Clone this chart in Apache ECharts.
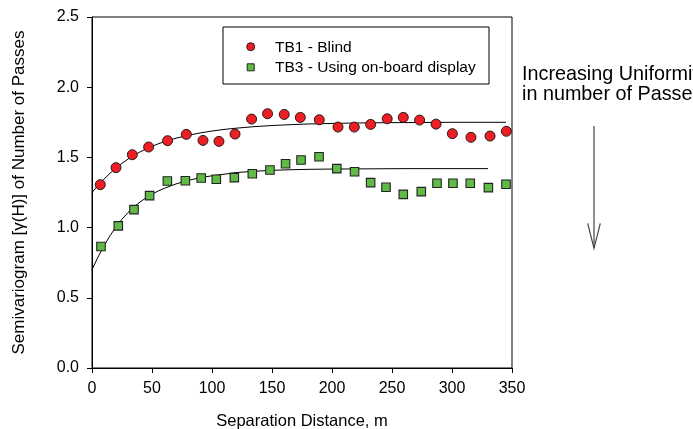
<!DOCTYPE html>
<html>
<head>
<meta charset="utf-8">
<script src="https://cdn.jsdelivr.net/npm/echarts@6/dist/echarts.min.js"></script>
<style>
html,body{margin:0;padding:0;background:#fff;}
#c{width:693px;height:429px;}
</style>
</head>
<body>
<div id="c"></div>
<script>
// ---- data ----
const xTicks = [0, 50, 100, 150, 200, 250, 300, 350];
const yTicks = [0.0, 0.5, 1.0, 1.5, 2.0, 2.5];

const redName = 'TB1 - Blind';
const redX = [6.9, 20, 33.6, 47.2, 63, 78.6, 92.5, 105.8, 119.2, 133, 146.3, 160.2, 173.6, 189.4, 205, 218.6, 232.2, 246, 259.4, 273, 286.7, 300.3, 315.8, 331.7, 345.3];
const redY = [1.306, 1.427, 1.519, 1.574, 1.619, 1.664, 1.621, 1.614, 1.666, 1.773, 1.811, 1.806, 1.785, 1.768, 1.716, 1.716, 1.735, 1.775, 1.785, 1.766, 1.737, 1.669, 1.643, 1.652, 1.686];

const greenName = 'TB3 - Using on-board display';
const greenX = [7.5, 21.9, 35, 48, 62.8, 77.8, 91, 103.6, 118.6, 133.6, 148.3, 161.3, 174.2, 189.2, 204, 218.8, 232.2, 245, 259.4, 274.4, 287.5, 300.8, 315.2, 330.3, 345];
const greenY = [0.865, 1.012, 1.128, 1.228, 1.332, 1.334, 1.353, 1.344, 1.356, 1.384, 1.41, 1.455, 1.481, 1.505, 1.42, 1.398, 1.32, 1.287, 1.237, 1.256, 1.316, 1.316, 1.316, 1.285, 1.309];

// fitted model curves
const fitRedX = [0, 5, 10, 15, 20, 25, 30, 35, 40, 45, 50, 55, 60, 70, 80, 90, 100, 110, 120, 135, 150, 165, 180, 200, 220, 240, 260, 280, 300, 320, 345];
const fitRedY = [1.25, 1.30, 1.345, 1.387, 1.424, 1.458, 1.488, 1.515, 1.539, 1.56, 1.579, 1.596, 1.611, 1.637, 1.657, 1.674, 1.688, 1.699, 1.708, 1.719, 1.727, 1.733, 1.738, 1.742, 1.745, 1.747, 1.748, 1.749, 1.75, 1.75, 1.75];
const fitGreenX = [0, 5, 10, 15, 20, 25, 30, 35, 40, 45, 50, 55, 60, 70, 80, 90, 100, 110, 120, 135, 150, 165, 180, 200, 220, 240, 260, 280, 300, 330];
const fitGreenY = [0.70, 0.79, 0.87, 0.942, 1.005, 1.06, 1.107, 1.147, 1.182, 1.212, 1.238, 1.26, 1.279, 1.311, 1.336, 1.355, 1.369, 1.38, 1.392, 1.401, 1.408, 1.412, 1.415, 1.417, 1.418, 1.419, 1.42, 1.42, 1.42, 1.42];

const annotationLines = ['Increasing Uniformity', 'in number of Passes'];
const xTitle = 'Separation Distance, m';
const yTitle = 'Semivariogram [γ(H)] of Number of Passes';

// ---- build ----
const zip = (xs, ys) => xs.map((x, i) => [x, ys[i]]);
const FONT = '"Liberation Sans", Arial, sans-serif';
const chart = echarts.init(document.getElementById('c'), null, {renderer: 'canvas'});

chart.setOption({
  animation: false,
  backgroundColor: '#fff',
  textStyle: {fontFamily: FONT, color: '#000'},
  grid: {left: 92, right: 181, top: 17, bottom: 61, containLabel: false, outerBoundsMode: 'none',
         show: true, borderColor: '#000', borderWidth: 1, backgroundColor: 'transparent'},
  xAxis: {
    type: 'value', min: xTicks[0], max: xTicks[xTicks.length - 1], interval: 50,
    name: xTitle, nameLocation: 'middle', nameGap: 45,
    nameTextStyle: {fontSize: 16.5, color: '#000', fontFamily: FONT},
    axisLine: {show: true, lineStyle: {color: '#000', width: 1}},
    axisTick: {show: true, inside: false, length: 5, lineStyle: {color: '#000'}},
    axisLabel: {fontSize: 16, color: '#000', margin: 13, fontFamily: FONT},
    splitLine: {show: false}
  },
  yAxis: {
    type: 'value', min: yTicks[0], max: yTicks[yTicks.length - 1], interval: 0.5,
    name: yTitle, nameLocation: 'middle', nameGap: 64,
    nameTextStyle: {fontSize: 17, color: '#000', fontFamily: FONT},
    axisLine: {show: true, lineStyle: {color: '#000', width: 1}},
    axisTick: {show: true, inside: false, length: 5, lineStyle: {color: '#000'}},
    axisLabel: {fontSize: 16, color: '#000', margin: 13, fontFamily: FONT, formatter: v => v.toFixed(1)},
    splitLine: {show: false}
  },
  series: [
    {type: 'line', data: zip(fitRedX, fitRedY), showSymbol: false, smooth: false,
     lineStyle: {color: '#000', width: 1}, silent: true, z: 1},
    {type: 'line', data: zip(fitGreenX, fitGreenY), showSymbol: false, smooth: false,
     lineStyle: {color: '#000', width: 1}, silent: true, z: 1},
    {name: redName, type: 'scatter', data: zip(redX, redY), symbol: 'circle', symbolSize: 10,
     itemStyle: {color: '#ee1f24', borderColor: '#111', borderWidth: 0.9, opacity: 1}, z: 3},
    {name: greenName, type: 'scatter', data: zip(greenX, greenY), symbol: 'rect', symbolSize: 8.5,
     itemStyle: {color: '#5fbb46', borderColor: '#222', borderWidth: 1.1, opacity: 1}, z: 3}
  ],
  graphic: [
    {type: 'rect', shape: {x: 223, y: 27, width: 266, height: 57}, style: {fill: '#fff', stroke: '#000', lineWidth: 1}, z: 10},
    {type: 'circle', shape: {cx: 250.7, cy: 46.7, r: 4}, style: {fill: '#ee1f24', stroke: '#111', lineWidth: 0.9}, z: 11},
    {type: 'rect', shape: {x: 247.2, y: 63.8, width: 7, height: 7}, style: {fill: '#5fbb46', stroke: '#222', lineWidth: 1}, z: 11},
    {type: 'text', x: 275, y: 48, style: {text: redName, font: '15.5px ' + FONT, fill: '#000', verticalAlign: 'middle', align: 'left'}, z: 11},
    {type: 'text', x: 275, y: 68, style: {text: greenName, font: '15.5px ' + FONT, fill: '#000', verticalAlign: 'middle', align: 'left'}, z: 11},
    {type: 'text', x: 522, y: 75, style: {text: annotationLines[0], font: '19.8px ' + FONT, fill: '#000', verticalAlign: 'middle', align: 'left'}, z: 11},
    {type: 'text', x: 522, y: 95, style: {text: annotationLines[1], font: '19.8px ' + FONT, fill: '#000', verticalAlign: 'middle', align: 'left'}, z: 11},
    {type: 'polyline', shape: {points: [[594, 126], [594, 248]]}, style: {stroke: '#444', lineWidth: 1.2, fill: null}, z: 11},
    {type: 'polyline', shape: {points: [[587.7, 223.3], [594, 248.3], [600.3, 223.3]]}, style: {stroke: '#444', lineWidth: 1.2, fill: null}, z: 11}
  ]
});
</script>
</body>
</html>
